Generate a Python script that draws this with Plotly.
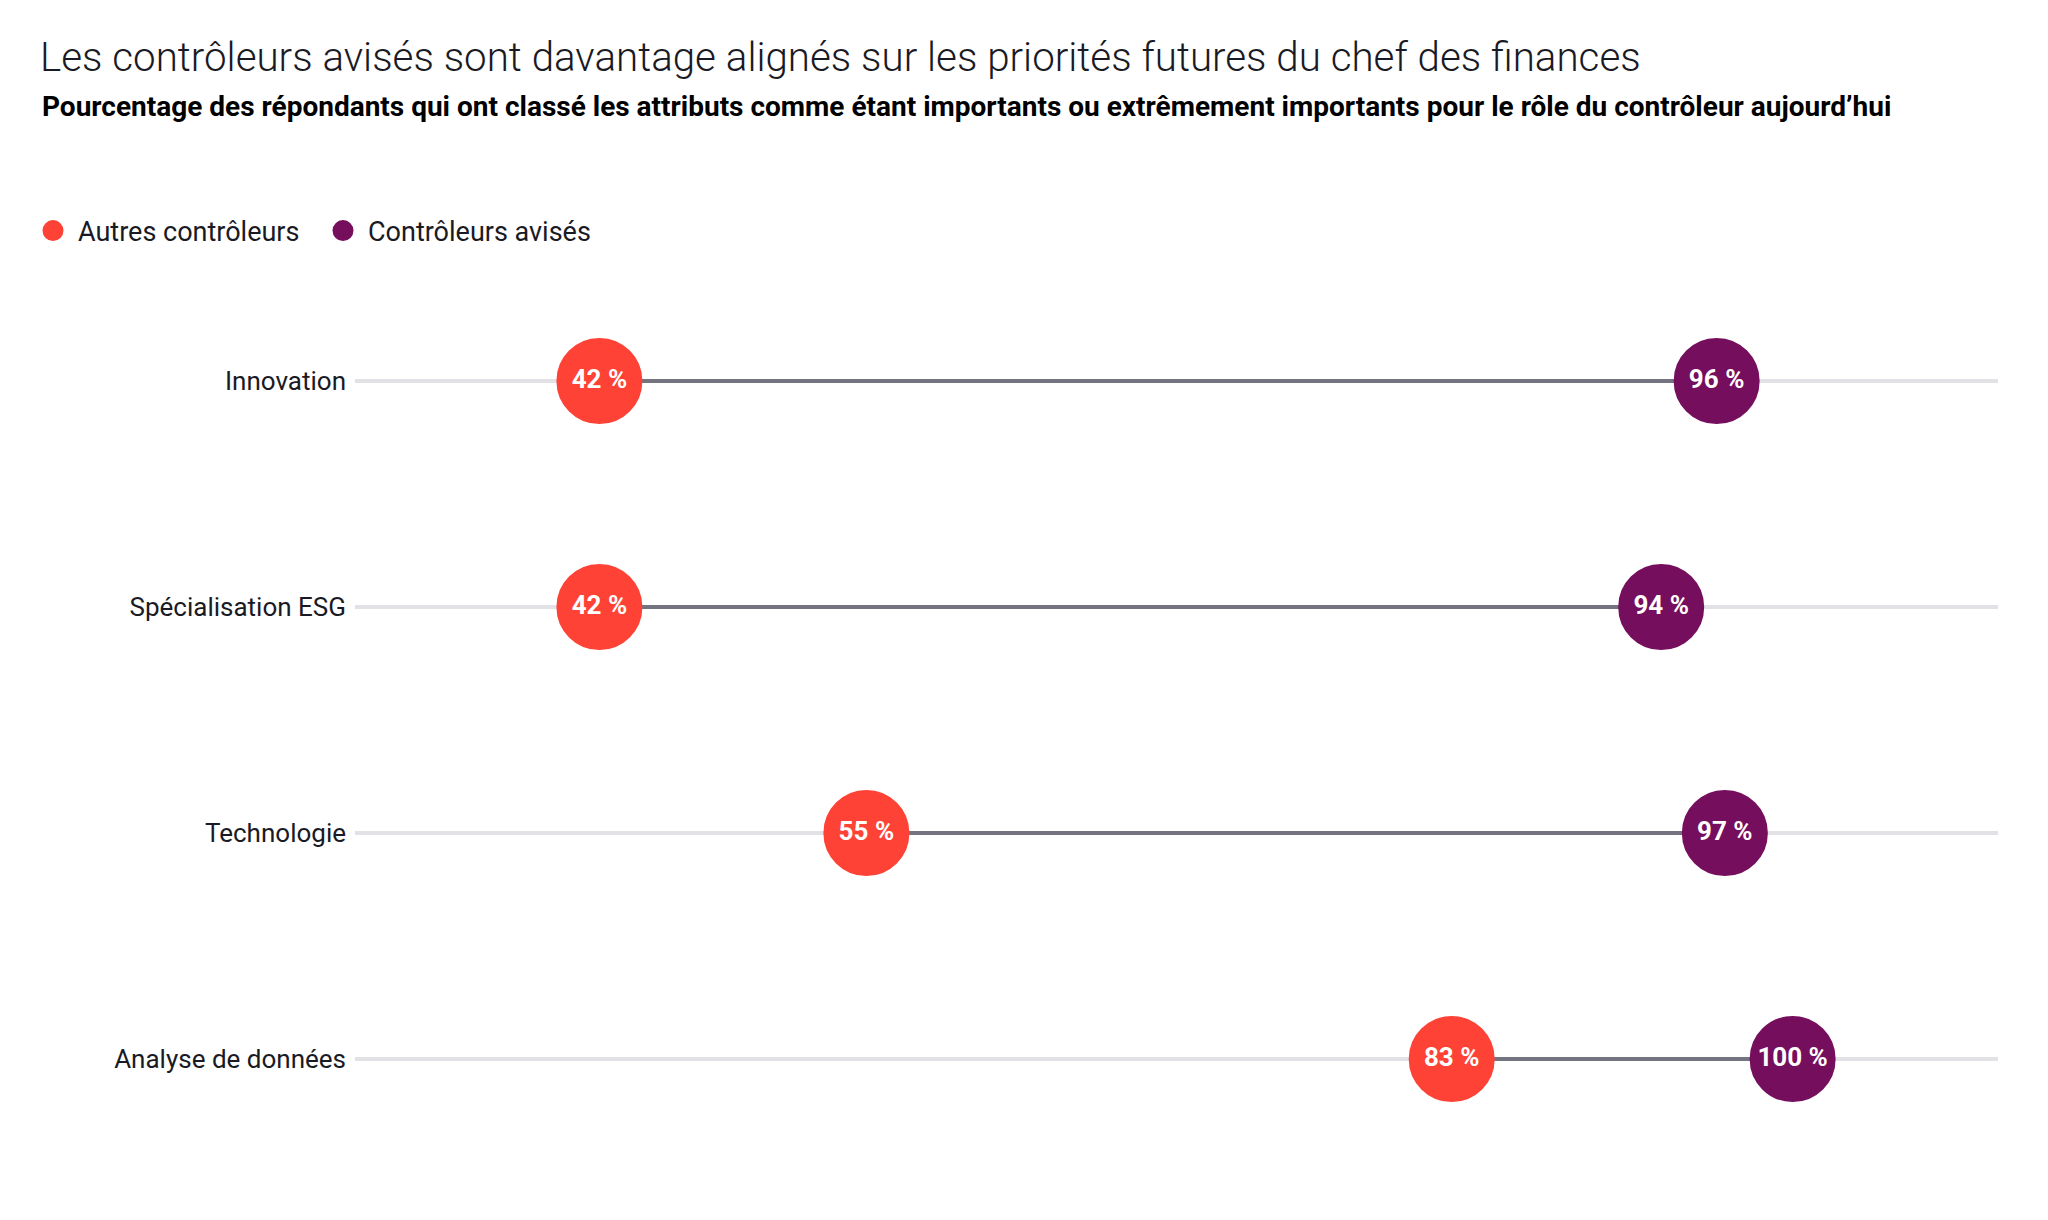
import plotly.graph_objects as go

categories = ["Innovation", "Spécialisation ESG", "Technologie", "Analyse de données"]
# values (labels show rounded percentages)
autres = [41.9, 41.9, 54.9, 83.4]
avises = [96.3, 93.6, 96.7, 100.0]
series_names = ["Autres contrôleurs", "Contrôleurs avisés"]
colors = ["#FF4236", "#750E5C"]

title = "Les contrôleurs avisés sont davantage alignés sur les priorités futures du chef des finances"
subtitle = ("Pourcentage des répondants qui ont classé les attributs comme étant importants "
            "ou extrêmement importants pour le rôle du contrôleur aujourd’hui")

FONT = "Roboto"

fig = go.Figure()

# connecting lines between the two values
lx, ly = [], []
for c, a, b in zip(categories, autres, avises):
    lx += [a, b, None]
    ly += [c, c, None]
fig.add_trace(go.Scatter(x=lx, y=ly, mode="lines", line=dict(color="#747480", width=4),
                         showlegend=False, hoverinfo="skip"))

for name, vals, col in zip(series_names, [autres, avises], colors):
    fig.add_trace(go.Scatter(
        x=vals, y=categories, mode="markers+text", name=name,
        marker=dict(size=81, color=col, line=dict(width=5, color=col)),
        text=[f"{round(v)}\u00a0%" for v in vals], textposition="middle center",
        textfont=dict(family=FONT, size=26, color="white", weight=700),
        cliponaxis=False,
    ))

# page offset (body margin) compensation
OFF = 8
W, H = 2040, 1212
ml, mt = 355 - OFF, 268 - OFF
mr = W - (1998 - OFF)
mb = H - (1172 - OFF)
pw = W - ml - mr
ph = H - mt - mb

def py(page_y):
    return (H - mb - (page_y - OFF)) / ph

def px(page_x):
    return ((page_x - OFF) - ml) / pw

fig.update_layout(
    width=W, height=H,
    margin=dict(l=ml, r=mr, t=mt, b=mb),
    paper_bgcolor="white", plot_bgcolor="white",
    font=dict(family=FONT, color="#1A1A24"),
    title=dict(text=title, xref="container", yref="container", x=(40 - OFF) / W, xanchor="left",
               y=1 - (57 - OFF) / H, yanchor="middle",
               font=dict(family=FONT, size=40.3, color="#1A1A24", weight=300)),
    annotations=[dict(text=subtitle, xref="paper", yref="paper",
                      x=px(40), xanchor="left", y=py(107), yanchor="middle",
                      showarrow=False, font=dict(family=FONT, size=28, color="#000000", weight=700))],
    legend=dict(orientation="h", x=px(28), xanchor="left", y=py(231),
                yanchor="middle", font=dict(family=FONT, size=27, color="#1A1A24"),
                itemsizing="trace", itemwidth=40, entrywidth=235, bgcolor="rgba(0,0,0,0)"),
    xaxis=dict(range=[30, 110], visible=False, fixedrange=True),
    yaxis=dict(categoryorder="array", categoryarray=categories[::-1], range=[-0.5, 3.5],
               showgrid=True, gridcolor="#E1E1E6", gridwidth=4, zeroline=False, showline=False,
               ticks="", ticklabelstandoff=8,
               tickfont=dict(family=FONT, size=26, color="#1A1A24"), fixedrange=True),
)

fig.write_html("out.html")
